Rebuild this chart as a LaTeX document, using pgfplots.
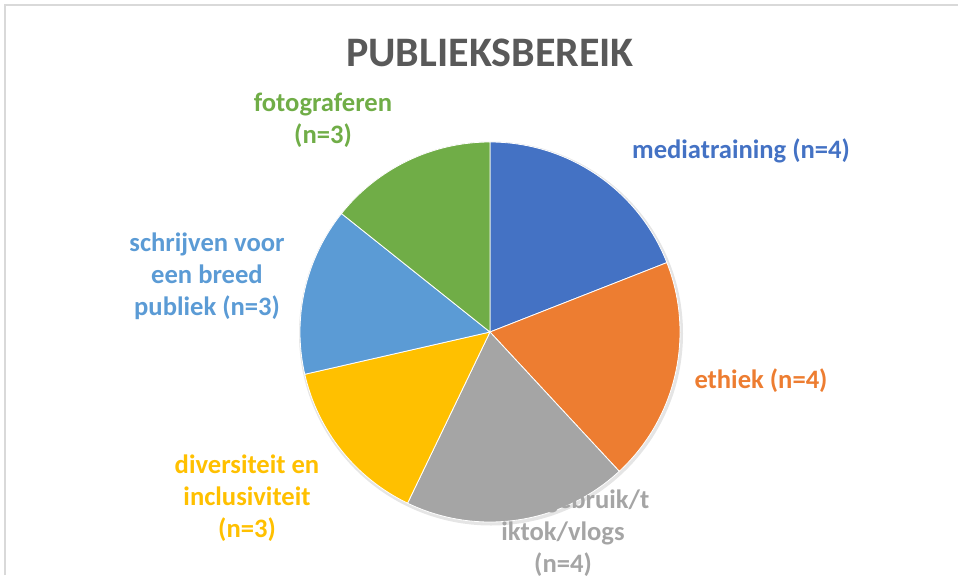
\documentclass[border=0pt]{standalone}
\usepackage{pgfplots}
\usepackage{pgfplotstable}
\pgfplotsset{compat=1.18}
\usepackage{fontspec}
\setmainfont{Carlito}

\definecolor{slice0}{HTML}{4472C4}
\definecolor{slice1}{HTML}{ED7D31}
\definecolor{slice2}{HTML}{A5A5A5}
\definecolor{slice3}{HTML}{FFC000}
\definecolor{slice4}{HTML}{5B9BD5}
\definecolor{slice5}{HTML}{70AD47}
\definecolor{titlegray}{HTML}{595959}
\definecolor{framegray}{HTML}{D9D9D9}

% slices clockwise from 12 o'clock
\pgfplotstableread{
idx value
0 4
1 4
2 4
3 3
4 3
5 3
}\piedata

\begin{document}%
\def\piesum{0}%
\pgfplotsforeachungrouped \i in {0,...,5}{%
  \pgfplotstablegetelem{\i}{value}\of\piedata
  \pgfmathsetmacro\piesum{\piesum+\pgfplotsretval}}%
\def\angacc{90}%
\pgfplotsforeachungrouped \i in {0,...,5}{%
  \pgfplotstablegetelem{\i}{value}\of\piedata
  \pgfmathsetmacro\angend{\angacc-360*\pgfplotsretval/\piesum}%
  \expandafter\global\expandafter\let\csname pieS\i\endcsname\angacc
  \expandafter\global\expandafter\let\csname pieE\i\endcsname\angend
  \global\let\angacc\angend}%
\begin{tikzpicture}[lbl/.style={align=center, font=\fontsize{13.3}{16}\selectfont\bfseries}]
\path[use as bounding box] (0,0) rectangle (479pt,287.5pt);
\begin{axis}[
    hide axis,
    scale only axis,
    width=479pt, height=287.5pt,
    xmin=0, xmax=958, ymin=0, ymax=575,
    clip=false,
]
% frame
\draw[framegray, line width=1pt] (axis cs:5,0) -- (axis cs:5,570.5) -- (axis cs:958,570.5);
% soft shadow
\fill[black, opacity=0.10] (axis cs:491,241.5) circle[radius=96pt];
\pgfplotsinvokeforeach{0,...,5}{%
  \fill[slice#1, draw=white, line width=0.4pt]
    (axis cs:490,243) -- ++(\csname pieS#1\endcsname:95pt)
    arc[start angle=\csname pieS#1\endcsname, end angle=\csname pieE#1\endcsname, radius=95pt]
    -- cycle;
}
% title
\node[font=\fontsize{21}{25}\selectfont\bfseries, text=titlegray] at (axis cs:490,522) {PUBLIEKSBEREIK};
% labels
\node[lbl, text=slice0] at (axis cs:741,424) {mediatraining (n=4)};
\node[lbl, text=slice1] at (axis cs:761,194) {ethiek (n=4)};
\node[lbl, text=slice2, anchor=north] at (axis cs:563,92) {mediagebruik/t\\iktok/vlogs\\(n=4)};
\node[lbl, text=slice3, anchor=north] at (axis cs:247,127) {diversiteit en\\inclusiviteit\\(n=3)};
\node[lbl, text=slice4, anchor=north] at (axis cs:207,349) {schrijven voor\\een breed\\publiek (n=3)};
\node[lbl, text=slice5, anchor=north] at (axis cs:323,489) {fotograferen\\(n=3)};
\end{axis}
\end{tikzpicture}%
\end{document}
